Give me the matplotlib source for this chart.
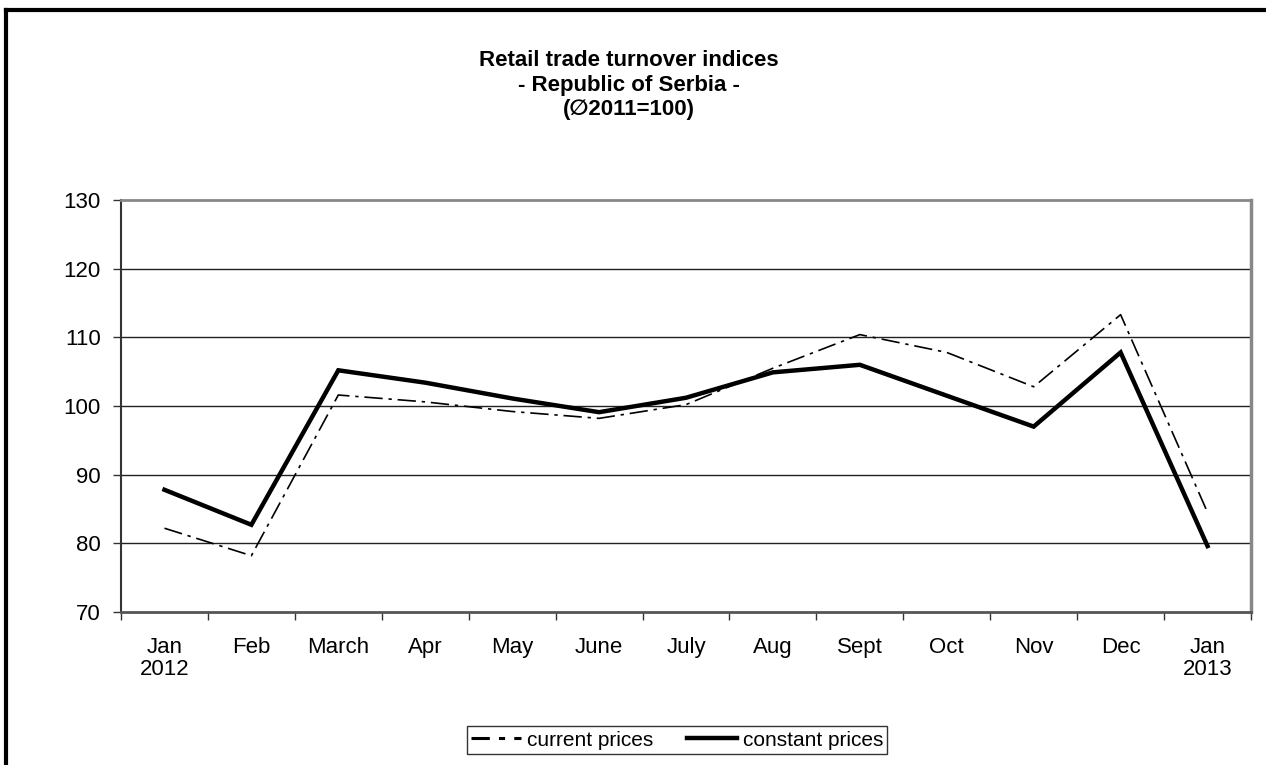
import matplotlib.pyplot as plt
from matplotlib.lines import Line2D

plt.rcParams['font.family'] = ['Liberation Sans', 'DejaVu Sans']

months = ['Jan\n2012', 'Feb', 'March', 'Apr', 'May', 'June', 'July',
          'Aug', 'Sept', 'Oct', 'Nov', 'Dec', 'Jan\n2013']
current = [82.2, 78.2, 101.6, 100.6, 99.2, 98.2, 100.2, 105.5, 110.4, 107.8, 102.8, 113.3, 84.5]
constant = [87.8, 82.7, 105.2, 103.4, 101.1, 99.1, 101.2, 104.9, 106.0, 101.5, 97.0, 107.8, 79.6]
yticks = [70, 80, 90, 100, 110, 120, 130]

W, H = 1266, 765
fig = plt.figure(figsize=(W / 100, H / 100), dpi=100)
ax = fig.add_axes([121 / W, 1 - 612 / H, (1251 - 121) / W, (612 - 200) / H])

x = list(range(len(months)))
ax.plot(x, current, color='black', lw=1.2, linestyle=(0, (11, 3.5, 2, 3.5)), zorder=3)
l_con, = ax.plot(x, constant, color='black', lw=3.2, solid_joinstyle='miter',
                 label='constant prices', zorder=4)
# legend handle for the dash-dot series is drawn a bit heavier, as in the original
h_cur = Line2D([], [], color='black', lw=2.2, linestyle=(0, (6, 3, 2, 3)),
               label='current prices')

ax.set_xlim(-0.5, len(months) - 0.5)
ax.set_ylim(70, 130)
ax.set_yticks(yticks)
ax.tick_params(axis='y', labelsize=16, length=5.5, width=1, color='#333333', pad=9)

# category boundaries as major ticks, labels on minor ticks at centres
ax.set_xticks([i - 0.5 for i in range(len(months) + 1)])
ax.set_xticklabels([])
ax.set_xticks(x, minor=True)
ax.set_xticklabels(months, minor=True, fontsize=16)
for lbl in ax.get_xticklabels(minor=True):
    lbl.set_linespacing(1.05)
ax.tick_params(axis='x', which='major', length=6, width=1, color='#333333')
ax.tick_params(axis='x', which='minor', length=0, pad=18)

for v in yticks[1:-1]:
    ax.axhline(v, color='#222222', lw=1, zorder=1)

ax.spines['left'].set_color('#333333')
ax.spines['left'].set_linewidth(1.5)
ax.spines['bottom'].set_color('#555555')
ax.spines['bottom'].set_linewidth(2)
ax.spines['top'].set_color('#888888')
ax.spines['top'].set_linewidth(2)
ax.spines['right'].set_color('#888888')
ax.spines['right'].set_linewidth(2.5)

fig.text(0.497, 1 - 85 / H, 'Retail trade turnover indices\n- Republic of Serbia -\n(\u22052011=100)',
         ha='center', va='center', fontsize=16, fontweight='bold', linespacing=1.25)

leg = fig.legend(handles=[h_cur, l_con], loc='center', ncol=2,
                 bbox_to_anchor=(677 / W, 1 - 740 / H), fontsize=15,
                 frameon=True, fancybox=False, shadow=False, borderpad=0.2,
                 handlelength=2.4, columnspacing=1.6, handletextpad=0.3,
                 borderaxespad=0)
leg.get_frame().set_edgecolor('black')
leg.get_frame().set_linewidth(1)

# outer chart border (left and top visible)
fig.add_artist(Line2D([6 / W, 6 / W], [0, 1 - 10 / H], color='black', lw=3,
                      transform=fig.transFigure))
fig.add_artist(Line2D([6 / W, 1], [1 - 10 / H, 1 - 10 / H], color='black', lw=3,
                      transform=fig.transFigure))

plt.savefig('out.png', dpi=100)
